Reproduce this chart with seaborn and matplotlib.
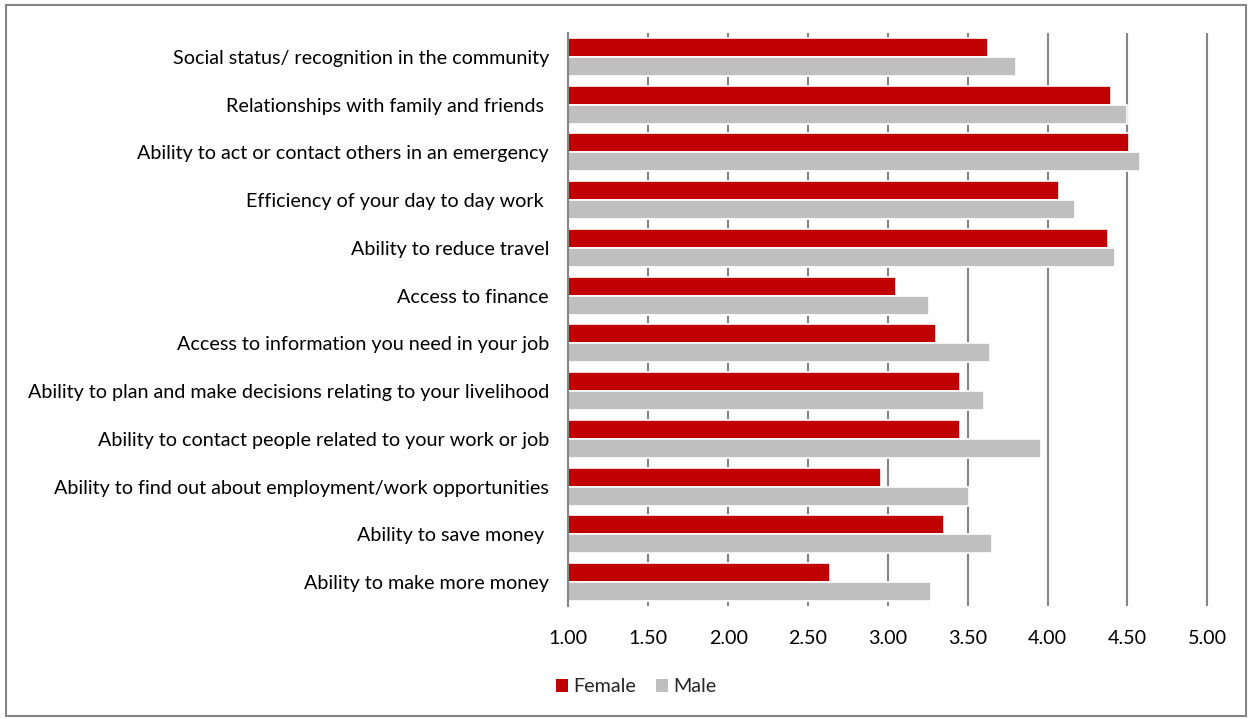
import matplotlib
matplotlib.use("Agg")
import matplotlib.pyplot as plt
import seaborn as sns
import pandas as pd
from matplotlib.patches import Rectangle, Patch

categories = [
    "Social status/ recognition in the community",
    "Relationships with family and friends ",
    "Ability to act or contact others in an emergency",
    "Efficiency of your day to day work ",
    "Ability to reduce travel",
    "Access to finance",
    "Access to information you need in your job",
    "Ability to plan and make decisions relating to your livelihood",
    "Ability to contact people related to your work or job",
    "Ability to find out about employment/work opportunities",
    "Ability to save money ",
    "Ability to make more money",
]
female = [3.63, 4.40, 4.51, 4.07, 4.38, 3.05, 3.30, 3.45, 3.45, 2.96, 3.35, 2.64]
male = [3.80, 4.50, 4.58, 4.17, 4.42, 3.26, 3.64, 3.60, 3.96, 3.51, 3.65, 3.27]
series = ["Female", "Male"]
colors = {"Female": "#C00000", "Male": "#BFBFBF"}
xticks = [1.0, 1.5, 2.0, 2.5, 3.0, 3.5, 4.0, 4.5, 5.0]

df = pd.DataFrame({
    "category": categories * 2,
    "value": female + male,
    "gender": ["Female"] * len(categories) + ["Male"] * len(categories),
})

sns.set_theme(style="white")
plt.rcParams["font.family"] = ["Lato", "DejaVu Sans"]

FS = 14.2
x0_px, x5_px = 568.4, 1207.3
extra = 0.01  # small margin so the 5.00 gridline is not clipped
unit_px = (x5_px - x0_px) / 4.0
fig = plt.figure(figsize=(12.52, 7.19), dpi=100)
ax = fig.add_axes([x0_px / 1252, 1 - 606 / 719, (x5_px - x0_px + extra * unit_px) / 1252, (606 - 33) / 719])

sns.barplot(data=df, y="category", x="value", hue="gender", order=categories,
            hue_order=series, palette=colors, saturation=1, orient="h", width=0.8,
            edgecolor="white", linewidth=1.2, ax=ax, legend=False, errorbar=None)

# bars start at the axis origin 1.00
for p in ax.patches:
    w = p.get_width()
    p.set_x(1.0)
    p.set_width(w - 1.0)

ax.set_xlim(1.0, 5.0 + extra)
ax.set_ylim(len(categories) - 0.5, -0.5)
ax.set_xticks(xticks)
ax.set_xticklabels([f"{t:.2f}" for t in xticks])
ax.xaxis.grid(True, color="#868686", linewidth=1.5)
ax.set_axisbelow(True)
ax.yaxis.grid(False)
for s in ["top", "right", "bottom"]:
    ax.spines[s].set_visible(False)
ax.spines["left"].set_color("#868686")
ax.spines["left"].set_linewidth(1.5)
ax.set_xlabel("")
ax.set_ylabel("")
ax.tick_params(axis="y", length=0, pad=14, labelsize=FS, labelcolor="black")
ax.tick_params(axis="x", length=0, pad=17, labelsize=FS, labelcolor="black")

handles = [Patch(facecolor=colors[s], edgecolor="none", label=s) for s in series]
fig.legend(handles=handles, loc="center", bbox_to_anchor=(636 / 1252, 1 - 687 / 719),
           ncol=2, frameon=False, fontsize=FS, handlelength=0.62, handleheight=0.62,
           handletextpad=0.25, columnspacing=1.0)

fig.patches.append(Rectangle((6 / 1252, 3 / 719), 1240 / 1252, 711 / 719,
                             transform=fig.transFigure, fill=False,
                             edgecolor="#868686", linewidth=1.5))

fig.savefig("out.png", dpi=100)
